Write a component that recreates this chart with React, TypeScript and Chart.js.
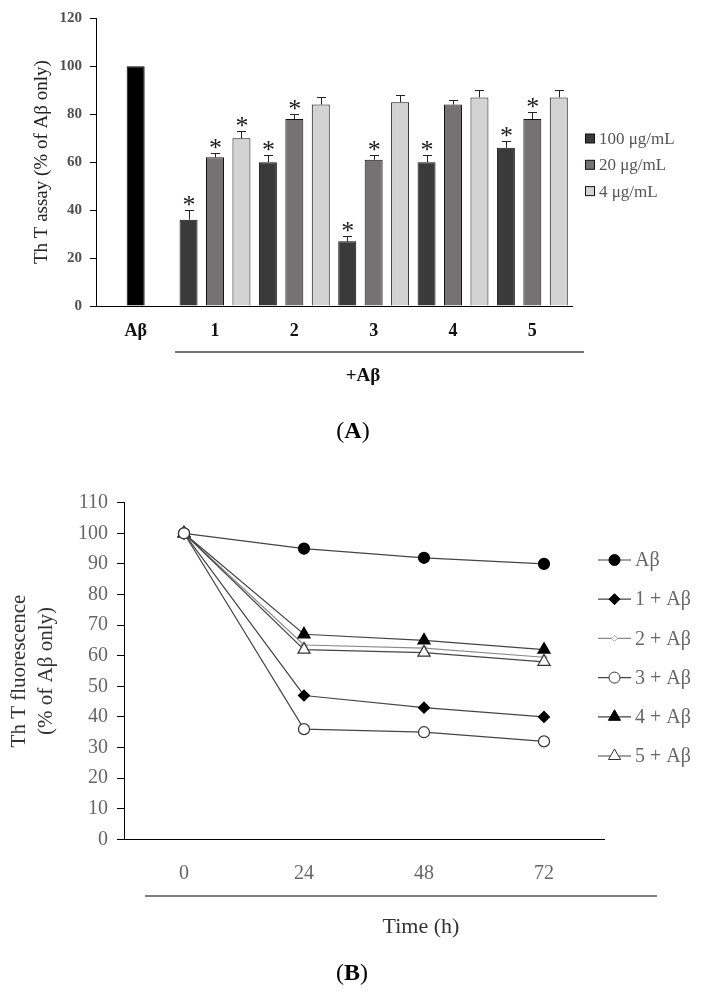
import React, { useEffect, useRef } from 'react';
import { Chart, registerables } from 'chart.js';

Chart.register(...registerables);

const SERIF = '"Liberation Serif", "Times New Roman", serif';

// ---------- Panel A data ----------
const groupLabels = ['Aβ', '1', '2', '3', '4', '5'];
const controlValues = [100, null, null, null, null, null];
const conc100Values = [null, 36, 60, 27, 60, 66];
const conc20Values = [null, 62, 78, 61, 84, 78];
const conc4Values = [null, 70, 84, 85, 87, 87];
const conc100Errors = [0, 4, 3, 2, 3, 3];
const conc20Errors = [0, 2, 2, 2, 2, 3];
const conc4Errors = [0, 3, 3, 3, 3, 3];
const conc100Stars = [false, true, true, true, true, true];
const conc20Stars = [false, true, true, true, false, true];
const conc4Stars = [false, true, false, false, false, false];
const barSeriesLabels = ['100 μg/mL', '20 μg/mL', '4 μg/mL'];

// ---------- Panel B data ----------
const timeLabels = ['0', '24', '48', '72'];
const abOnly = [100, 95, 92, 90];
const cmpd1 = [100, 47, 43, 40];
const cmpd2 = [100, 63.5, 62.5, 59.5];
const cmpd3 = [100, 36, 35, 32];
const cmpd4 = [100, 67, 65, 62];
const cmpd5 = [100, 62, 61, 58];
const lineSeriesLabels = ['Aβ', '1 + Aβ', '2 + Aβ', '3 + Aβ', '4 + Aβ', '5 + Aβ'];

function drawMarker(ctx: CanvasRenderingContext2D, style: string, x: number, y: number, r: number, fill: string, stroke: string) {
  ctx.beginPath();
  if (style === 'circle') {
    ctx.arc(x, y, r, 0, Math.PI * 2);
  } else if (style === 'rectRot') {
    ctx.moveTo(x, y - r);
    ctx.lineTo(x + r, y);
    ctx.lineTo(x, y + r);
    ctx.lineTo(x - r, y);
    ctx.closePath();
  } else if (style === 'triangle') {
    ctx.moveTo(x, y - r);
    ctx.lineTo(x + 0.866 * r, y + 0.5 * r);
    ctx.lineTo(x - 0.866 * r, y + 0.5 * r);
    ctx.closePath();
  }
  ctx.fillStyle = fill;
  ctx.fill();
  ctx.strokeStyle = stroke;
  ctx.lineWidth = 1;
  ctx.stroke();
}

const errorBarPlugin = {
  id: 'errorBarsA',
  afterDatasetsDraw(chart: any) {
    const ctx = chart.ctx;
    const ys = chart.scales.y;
    chart.data.datasets.forEach((ds: any, di: number) => {
      if (!ds.errors) return;
      const meta = chart.getDatasetMeta(di);
      meta.data.forEach((el: any, i: number) => {
        const v = ds.data[i];
        if (v == null) return;
        const e = ds.errors[i] || 0;
        const x = el.x;
        const yBar = ys.getPixelForValue(v);
        const yTop = ys.getPixelForValue(v + e);
        ctx.save();
        if (e > 0) {
          ctx.strokeStyle = '#222';
          ctx.lineWidth = 1;
          ctx.beginPath();
          ctx.moveTo(Math.round(x) + 0.5, yBar);
          ctx.lineTo(Math.round(x) + 0.5, Math.round(yTop) + 0.5);
          ctx.moveTo(Math.round(x) - 4, Math.round(yTop) + 0.5);
          ctx.lineTo(Math.round(x) + 5, Math.round(yTop) + 0.5);
          ctx.stroke();
        }
        if (ds.stars && ds.stars[i]) {
          ctx.fillStyle = '#1a1a1a';
          ctx.font = `26px ${SERIF}`;
          ctx.textAlign = 'center';
          ctx.textBaseline = 'alphabetic';
          ctx.fillText('*', x + 0.5, yTop + 3);
        }
        ctx.restore();
      });
    });
  },
};

function drawPanelLabel(ctx: CanvasRenderingContext2D, letter: string, cx: number, cy: number) {
  ctx.textBaseline = 'middle';
  ctx.textAlign = 'left';
  ctx.fillStyle = '#000';
  ctx.font = `24px ${SERIF}`;
  const wo = ctx.measureText('(').width;
  const wc = ctx.measureText(')').width;
  ctx.font = `bold 24px ${SERIF}`;
  const wl = ctx.measureText(letter).width;
  const start = cx - (wo + wl + wc) / 2;
  ctx.font = `24px ${SERIF}`;
  ctx.fillText('(', start, cy);
  ctx.font = `bold 24px ${SERIF}`;
  ctx.fillText(letter, start + wo, cy);
  ctx.font = `24px ${SERIF}`;
  ctx.fillText(')', start + wo + wl, cy);
}

const annotateA = {
  id: 'annotateA',
  afterDraw(chart: any) {
    const ctx = chart.ctx;
    ctx.save();
    const items = chart.data.datasets.filter((d: any) => barSeriesLabels.includes(d.label));
    items.forEach((d: any, i: number) => {
      const cy = 138.5 + i * 26.3;
      ctx.fillStyle = d.backgroundColor;
      ctx.fillRect(585.5, cy - 4.5, 9, 9);
      ctx.strokeStyle = '#111';
      ctx.lineWidth = 1;
      ctx.strokeRect(585.5, cy - 4.5, 9, 9);
      ctx.fillStyle = '#555';
      ctx.font = `17px ${SERIF}`;
      ctx.textAlign = 'left';
      ctx.textBaseline = 'middle';
      ctx.fillText(d.label, 599, cy + 1);
    });
    ctx.strokeStyle = '#444';
    ctx.lineWidth = 1.5;
    ctx.beginPath();
    ctx.moveTo(175, 352);
    ctx.lineTo(584, 352);
    ctx.stroke();
    ctx.fillStyle = '#111';
    ctx.font = `bold 19px ${SERIF}`;
    ctx.textAlign = 'center';
    ctx.textBaseline = 'middle';
    ctx.fillText('+Aβ', 363, 376);
    drawPanelLabel(ctx, 'A', 353, 432);
    ctx.restore();
  },
};

const annotateB = {
  id: 'annotateB',
  afterDraw(chart: any) {
    const ctx = chart.ctx;
    ctx.save();
    chart.data.datasets.forEach((d: any, i: number) => {
      const cy = 110 + i * 39.2;
      ctx.strokeStyle = d.borderColor;
      ctx.lineWidth = 1.2;
      ctx.beginPath();
      ctx.moveTo(598, cy);
      ctx.lineTo(631, cy);
      ctx.stroke();
      drawMarker(ctx, d.pointStyle, 614.5, cy, d.pointRadius, d.pointBackgroundColor, d.pointBorderColor);
      ctx.fillStyle = '#666';
      ctx.font = `20px ${SERIF}`;
      ctx.textAlign = 'left';
      ctx.textBaseline = 'middle';
      ctx.fillText(d.label, 635, cy + 1);
    });
    ctx.strokeStyle = '#555';
    ctx.lineWidth = 1.5;
    ctx.beginPath();
    ctx.moveTo(145, 446);
    ctx.lineTo(657, 446);
    ctx.stroke();
    ctx.fillStyle = '#333';
    ctx.font = `22px ${SERIF}`;
    ctx.textAlign = 'center';
    ctx.textBaseline = 'middle';
    ctx.fillText('Time (h)', 421, 477);
    drawPanelLabel(ctx, 'B', 352, 524);
    ctx.restore();
  },
};

export default function App() {
  const refA = useRef<HTMLCanvasElement>(null);
  const refB = useRef<HTMLCanvasElement>(null);

  useEffect(() => {
    const chartA = new Chart(refA.current as HTMLCanvasElement, {
      type: 'bar',
      data: {
        labels: groupLabels,
        datasets: [
          {
            label: 'Aβ',
            data: controlValues,
            backgroundColor: '#000000',
            borderColor: '#000000',
            borderWidth: 1,
            barPercentage: 0.227,
          } as any,
          {
            label: barSeriesLabels[0],
            data: conc100Values,
            backgroundColor: '#3a3a3a',
            borderColor: '#111',
            borderWidth: 1,
            errors: conc100Errors,
            stars: conc100Stars,
          },
          {
            label: barSeriesLabels[1],
            data: conc20Values,
            backgroundColor: '#747272',
            borderColor: '#111',
            borderWidth: 1,
            errors: conc20Errors,
            stars: conc20Stars,
          },
          {
            label: barSeriesLabels[2],
            data: conc4Values,
            backgroundColor: '#d3d3d3',
            borderColor: '#111',
            borderWidth: 1,
            errors: conc4Errors,
            stars: conc4Stars,
          },
        ],
      },
      options: {
        responsive: false,
        animation: false,
        datasets: {
          bar: {
            skipNull: true,
            categoryPercentage: 1.0,
            barPercentage: 0.68,
          },
        },
        layout: { padding: { left: 0, top: 18.3, right: 130, bottom: 104 } },
        plugins: { legend: { display: false }, tooltip: { enabled: false } },
        scales: {
          x: {
            type: 'category',
            offset: true,
            grid: { display: false, drawTicks: false },
            border: { display: true, color: '#000', width: 1 },
            ticks: {
              color: '#111',
              padding: 15,
              font: { family: SERIF, size: 18, weight: 'bold' },
            },
            afterFit: (s: any) => { s.height = 40; },
          },
          y: {
            min: 0,
            max: 120,
            grid: { display: true, drawOnChartArea: false, drawTicks: true, tickLength: 6, color: '#000' },
            border: { display: true, color: '#000', width: 1 },
            ticks: {
              stepSize: 20,
              color: '#505050',
              padding: 8,
              font: { family: SERIF, size: 15, weight: 'bold' },
            },
            title: {
              display: true,
              text: 'Th T assay (% of Aβ only)',
              color: '#222',
              font: { family: SERIF, size: 19 },
              padding: { top: 30.6, bottom: 0 },
            },
            afterFit: (s: any) => { s.width = 96; },
          },
        },
      } as any,
      plugins: [errorBarPlugin, annotateA],
    });

    const lineColor = '#454545';
    const chartB = new Chart(refB.current as HTMLCanvasElement, {
      type: 'line',
      data: {
        labels: timeLabels,
        datasets: [
          { label: lineSeriesLabels[0], data: abOnly, borderColor: lineColor, borderWidth: 1.2, pointStyle: 'circle', pointRadius: 5.5, pointBackgroundColor: '#000', pointBorderColor: '#000', order: 5 },
          { label: lineSeriesLabels[1], data: cmpd1, borderColor: lineColor, borderWidth: 1.2, pointStyle: 'rectRot', pointRadius: 5.5, pointBackgroundColor: '#000', pointBorderColor: '#000', order: 4 },
          { label: lineSeriesLabels[2], data: cmpd2, borderColor: '#8a8a8a', borderWidth: 1.2, pointStyle: 'rectRot', pointRadius: 3, pointBackgroundColor: '#fff', pointBorderColor: '#aaa', order: 6 },
          { label: lineSeriesLabels[3], data: cmpd3, borderColor: lineColor, borderWidth: 1.2, pointStyle: 'circle', pointRadius: 5.5, pointBackgroundColor: '#fff', pointBorderColor: '#333', order: 0 },
          { label: lineSeriesLabels[4], data: cmpd4, borderColor: lineColor, borderWidth: 1.2, pointStyle: 'triangle', pointRadius: 7, pointBackgroundColor: '#000', pointBorderColor: '#000', order: 3 },
          { label: lineSeriesLabels[5], data: cmpd5, borderColor: lineColor, borderWidth: 1.2, pointStyle: 'triangle', pointRadius: 7, pointBackgroundColor: '#fff', pointBorderColor: '#333', order: 1 },
        ] as any,
      },
      options: {
        responsive: false,
        animation: false,
        elements: { line: { tension: 0, fill: false }, point: { borderWidth: 1 } },
        layout: { padding: { left: 0, top: 52.7, right: 98, bottom: 106.7 } },
        plugins: { legend: { display: false }, tooltip: { enabled: false } },
        scales: {
          x: {
            type: 'category',
            offset: true,
            grid: { display: false, drawTicks: false },
            border: { display: true, color: '#000', width: 1 },
            ticks: {
              color: '#666',
              padding: 22,
              font: { family: SERIF, size: 20 },
            },
            afterFit: (s: any) => { s.height = 50; },
          },
          y: {
            min: 0,
            max: 110,
            grid: { display: true, drawOnChartArea: false, drawTicks: true, tickLength: 7, color: '#000' },
            border: { display: true, color: '#000', width: 1 },
            ticks: {
              stepSize: 10,
              color: '#666',
              padding: 9,
              font: { family: SERIF, size: 20 },
            },
            title: {
              display: true,
              text: ['Th T fluorescence', '(% of Aβ only)'],
              color: '#333',
              font: { family: SERIF, size: 21, lineHeight: 1.3 },
              padding: { top: 5.8, bottom: 0 },
            },
            afterFit: (s: any) => { s.width = 124; },
          },
        },
      } as any,
      plugins: [annotateB],
    });

    return () => {
      chartA.destroy();
      chartB.destroy();
    };
  }, []);

  return (
    <div style={{ position: 'absolute', left: 0, top: 0, width: 702, height: 996, background: '#fff' }}>
      <canvas ref={refA} width={702} height={450} style={{ position: 'absolute', left: 0, top: 0, width: 702, height: 450 }} />
      <canvas ref={refB} width={702} height={546} style={{ position: 'absolute', left: 0, top: 450, width: 702, height: 546 }} />
    </div>
  );
}
